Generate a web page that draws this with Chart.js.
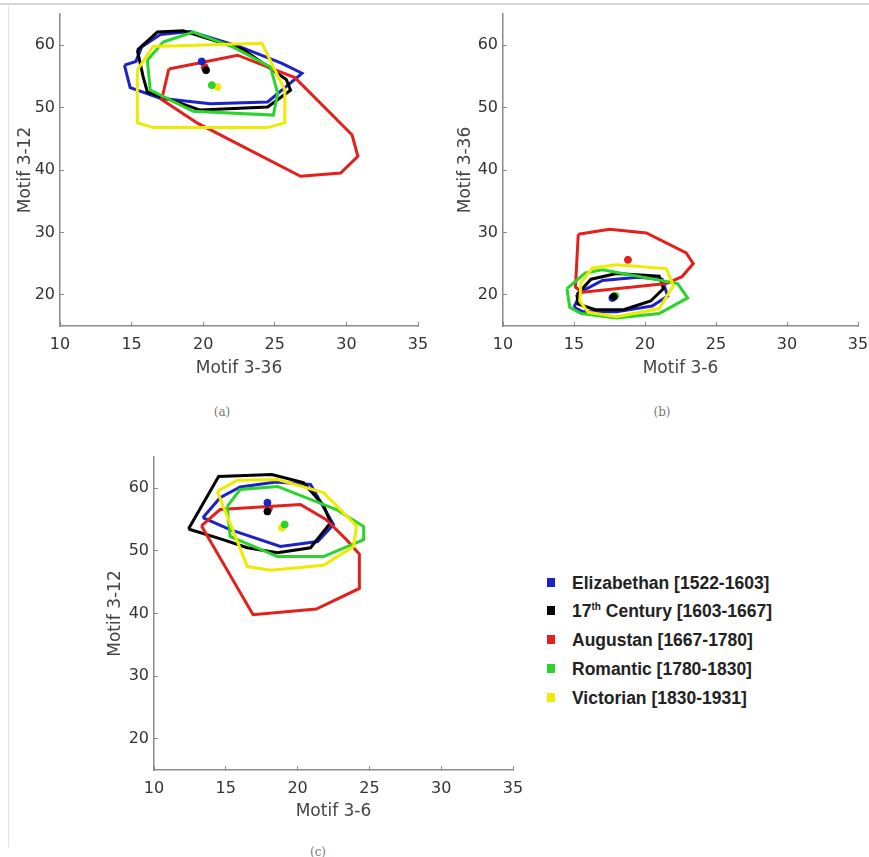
<!DOCTYPE html>
<html>
<head>
<meta charset="utf-8">
<script src="https://cdn.jsdelivr.net/npm/chart.js@4.4.1/dist/chart.umd.min.js"></script>
<style>
  body { margin: 0; background: #fff; width: 869px; height: 857px; position: relative; overflow: hidden; }
  .frame-top { position: absolute; left: 0; top: 3px; width: 869px; height: 2px; background: #d6d6d6; }
  .frame-left { position: absolute; left: 8px; top: 4px; width: 1px; height: 843px; background: #e4e4e4; }
  canvas { position: absolute; }
  .cap { position: absolute; font-family: 'DejaVu Serif', serif; font-size: 12px; color: #777; transform: translate(-50%, -50%); }
  .leg { position: absolute; left: 547px; height: 24px; line-height: 24px; white-space: nowrap;
         font-family: 'Liberation Sans', Arial, sans-serif; font-weight: bold; font-size: 17.5px; color: #222; }
  .leg i { display: inline-block; width: 8px; height: 9px; margin-right: 17px; vertical-align: middle; position: relative; top: -2px; }
  .leg sup { font-size: 10px; line-height: 0; }
</style>
</head>
<body>
<div class="frame-top"></div>
<div class="frame-left"></div>
<canvas id="panelA" width="440" height="400" style="left:0;top:0;"></canvas>
<canvas id="panelB" width="429" height="400" style="left:440px;top:0;"></canvas>
<canvas id="panelC" width="450" height="390" style="left:90px;top:440px;"></canvas>
<div class="cap" style="left:222px;top:412px;">(a)</div>
<div class="cap" style="left:662px;top:412px;">(b)</div>
<div class="cap" style="left:318px;top:852px;">(c)</div>
<div id="legend"></div>

<script>
// perioade si culori
const eras = ['Elizabethan [1522-1603]', '17th Century [1603-1667]', 'Augustan [1667-1780]', 'Romantic [1780-1830]', 'Victorian [1830-1931]'];
const eraColors = ['#1c22c8', '#000000', '#e3201b', '#2ad42a', '#eeea00'];

const xTicks = [10, 15, 20, 25, 30, 35];
const yTicks = [20, 30, 40, 50, 60];

// (a) Motif 3-36 vs Motif 3-12
const aEliz = [[14.5,56.8],[14.9,53.2],[17.0,51.5],[20.5,50.6],[24.5,50.9],[26.9,55.5],[25.5,57.1],[22.5,59.8],[19.1,62.2],[17.0,61.7],[15.7,59.7],[15.3,57.4],[14.5,56.8]];
const aC17 = [[15.4,59.2],[16.8,62.1],[18.6,62.3],[22.8,59.3],[25.8,54.5],[26.1,52.8],[24.5,50.1],[19.8,49.6],[16.1,52.5],[15.8,55.0],[15.4,59.2]];
const aAug = [[17.6,56.2],[17.1,51.3],[19.6,47.5],[26.8,39.0],[29.6,39.5],[30.8,42.2],[30.4,45.6],[26.4,54.8],[22.4,58.4],[19.8,57.2],[17.6,56.2]];
const aRom = [[16.1,57.6],[16.3,52.8],[19.3,49.4],[24.9,48.8],[25.2,52.3],[24.7,56.5],[22.1,59.7],[19.3,62.1],[17.2,60.5],[16.1,57.6]];
const aVic = [[15.4,56.0],[15.4,47.6],[16.5,46.8],[24.5,46.8],[25.7,47.6],[25.7,52.8],[24.1,60.3],[16.5,59.8],[15.4,56.0]];
const aCentres = [[19.9,57.4],[20.2,56.0],[20.1,56.5],[20.6,53.6],[21.0,53.3]];

// (b) Motif 3-6 vs Motif 3-36
const bEliz = [[15.0,18.0],[15.6,17.3],[18.0,17.3],[20.5,18.2],[21.6,19.8],[21.2,22.5],[19.5,22.8],[17.0,22.3],[15.5,20.5],[15.0,18.0]];
const bC17 = [[15.2,20.0],[16.2,22.5],[18.0,23.4],[21.0,23.0],[21.3,21.0],[20.4,19.0],[18.5,17.6],[16.5,17.6],[15.3,18.5],[15.2,20.0]];
const bAug = [[15.3,29.7],[17.5,30.5],[20.1,29.9],[22.9,26.7],[23.4,25.0],[22.6,22.9],[21.5,21.8],[15.6,20.4],[15.1,21.2],[15.3,29.7]];
const bRom = [[14.5,21.0],[14.7,18.0],[15.5,17.0],[18.0,16.3],[21.0,17.0],[23.0,19.5],[22.3,21.8],[17.0,24.0],[15.8,23.5],[14.5,21.0]];
const bVic = [[15.5,22.0],[16.3,24.3],[18.0,24.8],[21.5,24.2],[22.0,21.5],[21.0,17.8],[18.0,16.5],[16.0,17.2],[15.4,19.0],[15.5,22.0]];
const bCentres = [[17.7,19.5],[17.8,19.7],[18.8,25.6],[17.9,19.8],[17.9,19.9]];

// (c) Motif 3-6 vs Motif 3-12
const cEliz = [[13.4,55.3],[14.6,58.5],[16.0,60.2],[18.5,61.0],[20.9,60.6],[22.5,54.2],[21.4,51.5],[18.8,50.7],[15.3,53.4],[13.4,55.3]];
const cC17 = [[12.4,53.5],[14.5,61.9],[18.2,62.2],[20.4,60.9],[21.8,57.3],[22.3,54.5],[20.9,50.5],[18.6,49.7],[16.5,50.5],[14.8,51.8],[12.4,53.5]];
const cAug = [[13.3,54.0],[14.6,56.6],[20.2,57.4],[22.0,55.0],[23.4,51.8],[24.3,49.5],[24.3,44.0],[21.3,40.7],[16.9,39.8],[13.3,54.0]];
const cRom = [[15.1,57.1],[15.3,52.3],[18.6,49.1],[21.8,49.1],[24.6,51.8],[24.6,53.9],[22.7,56.6],[18.6,60.3],[16.0,59.8],[15.1,57.1]];
const cVic = [[14.4,59.5],[15.2,55.0],[16.5,47.5],[18.1,46.9],[21.8,47.7],[23.9,50.7],[24.1,54.0],[21.8,59.3],[18.6,61.4],[15.8,61.3],[14.4,59.5]];
const cCentres = [[17.9,57.7],[17.9,56.3],[18.0,56.8],[19.1,54.2],[18.9,53.7]];

// ordinea de desenare: valoare mica = deasupra
const dotOrder = [1, 0, 2, 3, 4];

const tickFont = { family: 'DejaVu Sans', size: 16 };
const titleFont = { family: 'DejaVu Sans', size: 17 };

function makePanel(id, hulls, centres, xTitle, yTitle, g) {
    const datasets = [];
    hulls.forEach((pts, i) => {
        datasets.push({
            data: pts.map(p => ({ x: p[0], y: p[1] })),
            showLine: true,
            borderColor: eraColors[i],
            borderWidth: 3,
            pointRadius: 0,
            tension: 0,
            order: 10 - i
        });
    });
    centres.forEach((p, i) => {
        datasets.push({
            data: [{ x: p[0], y: p[1] }],
            pointRadius: 3.5,
            pointBackgroundColor: eraColors[i],
            pointBorderColor: eraColors[i],
            pointBorderWidth: 1,
            order: dotOrder[i]
        });
    });

    new Chart(document.getElementById(id), {
        type: 'scatter',
        data: { datasets },
        options: {
            responsive: false,
            animation: false,
            events: [],
            layout: { padding: { top: g.top, right: g.right, left: 0, bottom: 0 } },
            plugins: { legend: { display: false }, tooltip: { enabled: false } },
            scales: {
                x: {
                    type: 'linear', min: 10, max: 35,
                    afterBuildTicks: s => { s.ticks = xTicks.map(v => ({ value: v })); },
                    afterFit: s => { s.height = g.xh; s.paddingLeft = 0; s.paddingRight = 0; },
                    grid: { drawOnChartArea: false, tickLength: -4, color: '#8a8a8a', lineWidth: 1 },
                    border: { color: '#8a8a8a', width: 1.5 },
                    ticks: { color: '#333', font: tickFont, padding: 13, maxRotation: 0 },
                    title: { display: true, text: xTitle, color: '#444', font: titleFont, padding: { top: 0, bottom: g.xtb } }
                },
                y: {
                    type: 'linear', min: 15, max: 65,
                    afterBuildTicks: s => { s.ticks = yTicks.map(v => ({ value: v })); },
                    afterFit: s => { s.width = g.yw; s.paddingTop = 0; s.paddingBottom = 0; },
                    grid: { drawOnChartArea: false, tickLength: -4, color: '#8a8a8a', lineWidth: 1 },
                    border: { color: '#8a8a8a', width: 1.5 },
                    ticks: { color: '#333', font: tickFont, padding: 9 },
                    title: { display: true, text: yTitle, color: '#444', font: titleFont, padding: { top: 15, bottom: 0 } }
                }
            }
        }
    });
}

makePanel('panelA', [aEliz, aC17, aAug, aRom, aVic], aCentres, 'Motif 3-36', 'Motif 3-12',
    { top: 14, right: 22, yw: 60, xh: 74, xtb: 21 });
makePanel('panelB', [bEliz, bC17, bAug, bRom, bVic], bCentres, 'Motif 3-6', 'Motif 3-36',
    { top: 14, right: 11, yw: 63, xh: 74, xtb: 21 });
makePanel('panelC', [cEliz, cC17, cAug, cRom, cVic], cCentres, 'Motif 3-6', 'Motif 3-12',
    { top: 17, right: 27, yw: 64, xh: 60, xtb: 8 });

// legenda comuna
const legendRows = [583, 611, 640, 669, 698];
const legend = document.getElementById('legend');
eras.forEach((name, i) => {
    const row = document.createElement('div');
    row.className = 'leg';
    row.style.top = (legendRows[i] - 12) + 'px';
    const label = name.replace(/^17th/, '17<sup>th</sup>');
    row.innerHTML = '<i style="background:' + eraColors[i] + '"></i>' + label;
    legend.appendChild(row);
});
</script>
</body>
</html>
